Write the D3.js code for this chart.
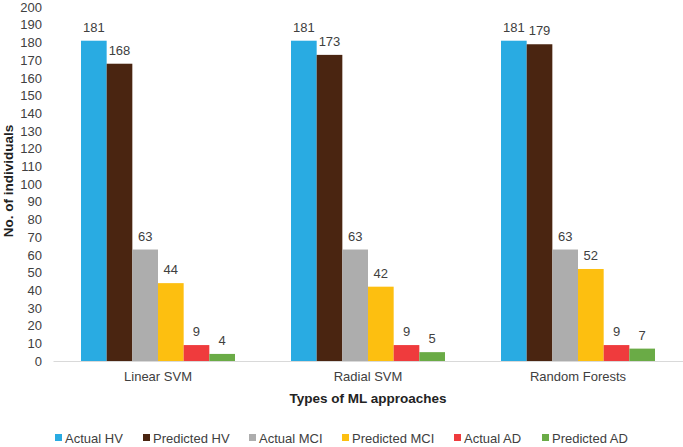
<!DOCTYPE html>
<html><head><meta charset="utf-8">
<script src="https://cdn.jsdelivr.net/npm/d3@7"></script>
<style>body{margin:0;background:#fff}svg{display:block;font-family:"Liberation Sans",Arial,sans-serif}</style>
</head><body>
<svg id="c" width="683" height="447"></svg>
<script>
const categories = ["Linear SVM", "Radial SVM", "Random Forests"];
const seriesNames = ["Actual HV", "Predicted HV", "Actual MCI", "Predicted MCI", "Actual AD", "Predicted AD"];
const actualHV = [181, 181, 181];
const predictedHV = [168, 173, 179];
const actualMCI = [63, 63, 63];
const predictedMCI = [44, 42, 52];
const actualAD = [9, 9, 9];
const predictedAD = [4, 5, 7];
const yTicks = d3.range(0, 201, 10);
const colors = ["#29ABE2", "#4A2511", "#ADADAD", "#FDBF10", "#EF3B3D", "#6AAB46"];
const seriesValues = [actualHV, predictedHV, actualMCI, predictedMCI, actualAD, predictedAD];

const svg = d3.select("#c");
const x0 = d3.scaleBand().domain(categories).range([53, 683]).paddingInner(0.2667).paddingOuter(0.1333);
const x1 = d3.scaleBand().domain(seriesNames).range([0, x0.bandwidth()]);
const y = d3.scaleLinear().domain([0, 200]).range([361, 7.1]);

// y axis tick labels
const yAxis = d3.axisLeft(y).tickValues(yTicks).tickSize(0).tickPadding(0);
const gy = svg.append("g").attr("transform", "translate(42,0)").call(yAxis);
gy.select(".domain").remove();
gy.selectAll("text").attr("fill", "#404040").style("font-size", "13px").style("font-family", "Liberation Sans, Arial, sans-serif");

// bars
const groups = svg.append("g").selectAll("g").data(categories).join("g")
  .attr("transform", d => `translate(${x0(d)},0)`);
groups.each(function(cat, ci) {
  const g = d3.select(this);
  seriesNames.forEach((s, si) => {
    const v = seriesValues[si][ci];
    g.append("rect").attr("x", x1(s)).attr("y", y(v)).attr("width", x1.bandwidth()).attr("height", y(0) - y(v)).attr("fill", colors[si]);
    g.append("text").attr("x", x1(s) + x1.bandwidth() / 2).attr("y", y(v) - 9)
      .attr("text-anchor", "middle").attr("fill", "#404040").style("font-size", "13px").text(v);
  });
});

// x axis
const xAxis = d3.axisBottom(x0).tickSize(0).tickPadding(11);
const gx = svg.append("g").attr("transform", "translate(0,361)").call(xAxis);
gx.select(".domain").attr("stroke", "#d9d9d9").attr("stroke-width", 1);
gx.selectAll("text").attr("fill", "#404040").style("font-size", "13px").style("font-family", "Liberation Sans, Arial, sans-serif");

// axis titles
svg.append("text").attr("x", 368).attr("y", 403).attr("text-anchor", "middle")
  .style("font-size", "13.5px").style("font-weight", "bold").attr("fill", "#222").text("Types of ML approaches");
svg.append("text").attr("transform", "translate(12.5,181) rotate(-90)").attr("text-anchor", "middle")
  .style("font-size", "13.5px").style("font-weight", "bold").attr("fill", "#222").text("No. of individuals");

// legend
const legendX = [55, 143, 249, 342, 454, 542];
const lg = svg.append("g").selectAll("g").data(seriesNames).join("g")
  .attr("transform", (d, i) => `translate(${legendX[i]},0)`);
lg.append("rect").attr("x", 0).attr("y", 434).attr("width", 7).attr("height", 7).attr("fill", (d, i) => colors[i]);
lg.append("text").attr("x", 10).attr("y", 443).attr("fill", "#404040").style("font-size", "13px").text(d => d);
</script>
</body></html>
